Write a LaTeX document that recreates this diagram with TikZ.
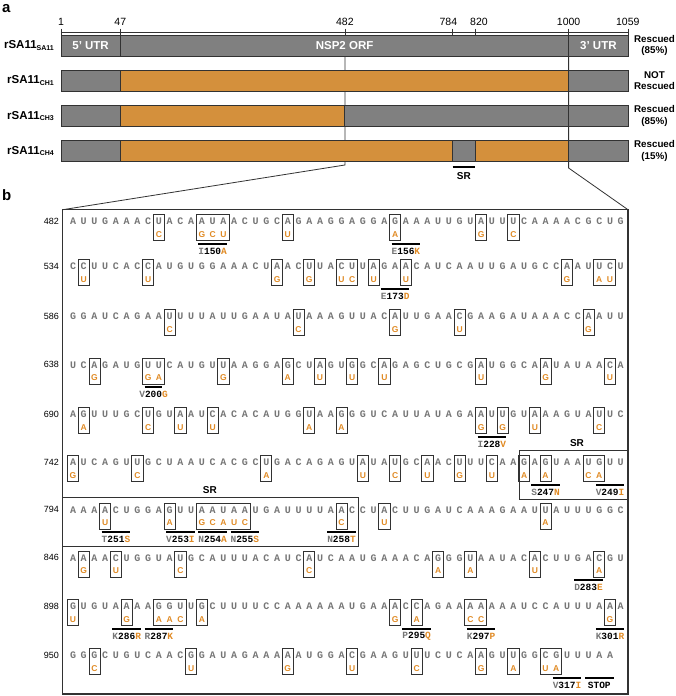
\documentclass[tikz,border=0pt]{standalone}
\usepackage{fontspec}
\setmainfont{Liberation Sans}
\newfontfamily\seqfont{Liberation Mono}
\usetikzlibrary{positioning, calc, fit}

\definecolor{bargray}{RGB}{128,128,128}
\definecolor{barorange}{RGB}{212,144,60}
\definecolor{mutorange}{RGB}{224,138,36}
\definecolor{seqgray}{RGB}{118,118,118}
\definecolor{linegray}{RGB}{50,50,50}

\newcommand{\aachange}[3]{{\color{seqgray}#1}#2{\color{mutorange}#3}}

\begin{document}
\begin{tikzpicture}[
    x=1pt, y=-1pt,
    graybar/.style={fill=bargray, draw=linegray, line width=1pt},
    orangebar/.style={fill=barorange, draw=linegray, line width=1pt},
    construct/.style={anchor=east, inner sep=0pt, font=\bfseries\fontsize{11.5}{12}\selectfont},
    rescuelab/.style={align=center, inner sep=0pt, font=\bfseries\fontsize{9.8}{11.5}\selectfont},
    ticklab/.style={inner sep=0pt, font=\fontsize{10.5}{11}\selectfont},
    regionlab/.style={text=white, inner sep=0pt, font=\bfseries\fontsize{11.5}{12}\selectfont},
    panellab/.style={anchor=west, inner sep=0pt, font=\bfseries\fontsize{15}{16}\selectfont},
    nuc/.style={inner sep=0pt, minimum width=10.74pt, minimum height=12pt,
        text height=7pt, text depth=0pt, text=seqgray,
        font=\seqfont\bfseries\fontsize{10}{10}\selectfont},
    mutant/.style={inner sep=0pt, minimum width=10.74pt, minimum height=12pt,
        text height=6pt, text depth=0pt, text=mutorange,
        font=\bfseries\fontsize{8.5}{9}\selectfont},
    mutbox/.style={draw=linegray, line width=0.8pt, inner sep=0pt},
    rownum/.style={anchor=east, inner sep=0pt, font=\fontsize{9}{9}\selectfont},
    codonbar/.style={line width=2pt},
    codonlab/.style={inner sep=0pt, font=\seqfont\bfseries\fontsize{9.5}{9.5}\selectfont},
    srbox/.style={draw=linegray, line width=1pt},
    srlab/.style={inner sep=0pt, font=\bfseries\fontsize{10}{10}\selectfont},
    zoomline/.style={draw=linegray, line width=0.8pt}
]
\useasboundingbox (0,0) rectangle (675,696);

% panel a
\node[panellab] (pa) at (2,9) {a};

\draw[zoomline] (61,32.7) -- (628.3,32.7);
\foreach \px/\lx/\lab in {61/61/1, 120.3/120.3/47, 344.9/344.9/482, 452.6/448.4/784,
                          475.1/479/820, 568.6/568.6/1000, 628.3/627.8/1059}{
  \draw[zoomline] (\px,28.5) -- (\px,35);
  \node[ticklab] (tick\lab) at (\lx,22) {\lab};
}

% zoom lines towards panel b
\coordinate (cutL) at (344.9,165);
\coordinate (cutR) at (568.6,168);
\coordinate (boxNW) at (62.7,209.7);
\coordinate (boxNE) at (628,209.7);
\draw[zoomline] (344.9,56) -- (cutL) -- (boxNW);
\draw[zoomline] (568.6,56) -- (cutR) -- (boxNE);

% rSA11 SA11
\draw[graybar] (61,35) rectangle (120.3,56);
\draw[graybar] (120.3,35) rectangle (568.6,56);
\draw[graybar] (568.6,35) rectangle (628.3,56);
% rSA11 CH1
\draw[graybar] (61,70.2) rectangle (120.3,91.2);
\draw[orangebar] (120.3,70.2) rectangle (568.6,91.2);
\draw[graybar] (568.6,70.2) rectangle (628.3,91.2);
% rSA11 CH3
\draw[graybar] (61,105.4) rectangle (120.3,126.4);
\draw[orangebar] (120.3,105.4) rectangle (344.9,126.4);
\draw[graybar] (344.9,105.4) rectangle (568.6,126.4);
\draw[graybar] (568.6,105.4) rectangle (628.3,126.4);
% rSA11 CH4
\draw[graybar] (61,140.6) rectangle (120.3,161.6);
\draw[orangebar] (120.3,140.6) rectangle (452.6,161.6);
\draw[graybar] (452.6,140.6) rectangle (475.1,161.6);
\draw[orangebar] (475.1,140.6) rectangle (568.6,161.6);
\draw[graybar] (568.6,140.6) rectangle (628.3,161.6);

\node[regionlab] (utr5) at (90.6,45.5) {5’ UTR};
\node[regionlab] (orf) at (344.6,45.5) {NSP2 ORF};
\node[regionlab] (utr3) at (598.4,45.5) {3’ UTR};

\foreach \c/\yc/\res in {SA11/45.5/{Rescued\\(85\%)}, CH1/80.7/{NOT\\Rescued},
                         CH3/115.9/{Rescued\\(85\%)}, CH4/151.1/{Rescued\\(15\%)}}{
  \node[construct] (con\c) at (54,\yc) {rSA11{\fontsize{7}{7}\selectfont\raisebox{-1.5pt}{\c}}};
  \node[rescuelab] (res\c) at (654.5,\yc) {\res};
}

\draw[line width=2pt] (452.6,166.7) -- (475.1,166.7);
\node[srlab] (srA) at (463.8,176) {SR};

% panel b
\node[panellab] (pb) at (2,195) {b};
\draw[linegray, line width=1.2pt] (boxNW) rectangle (628,694);

\foreach \r/\ry/\seq in {
  482/221/{A,U,U,G,A,A,A,C,U,A,C,A,A,U,A,A,C,U,G,C,A,G,A,A,G,G,A,G,G,A,G,A,A,A,U,U,G,U,A,U,U,U,C,A,A,A,A,C,G,C,U,G},
  534/266/{C,C,U,U,C,A,C,C,A,U,G,U,G,G,A,A,A,C,U,A,A,C,U,U,A,C,U,U,A,G,A,A,C,A,U,C,A,A,U,U,G,A,U,G,C,C,A,A,U,U,C,U},
  586/316/{G,G,A,U,C,A,G,A,A,U,U,U,U,A,U,U,G,A,A,U,A,U,A,A,A,G,U,U,A,C,A,U,U,G,A,A,C,G,A,A,G,A,U,A,A,A,C,C,A,A,U,U},
  638/364.5/{U,C,A,G,A,U,G,U,U,C,A,U,G,U,U,A,A,G,G,A,G,C,U,A,G,U,G,G,C,A,G,A,G,C,U,G,C,G,A,U,G,G,C,A,A,U,A,U,A,A,C,A},
  690/414/{A,G,U,U,U,G,C,U,G,U,A,A,U,C,A,C,A,C,A,U,G,G,U,A,A,G,G,G,U,C,A,U,U,A,U,A,G,A,A,U,U,G,U,A,A,A,G,U,A,U,U,C},
  742/462/{A,U,C,A,G,U,U,G,C,U,A,A,U,C,A,C,G,C,U,G,A,C,A,G,A,G,U,A,U,A,U,G,C,A,A,C,U,U,U,C,A,A,G,A,G,U,A,A,U,G,U,U},
  794/509.5/{A,A,A,A,C,U,G,G,A,G,U,U,A,A,U,A,A,U,G,A,U,U,U,U,A,A,C,C,U,A,C,U,U,G,A,U,C,A,A,A,G,A,A,U,U,A,U,U,U,G,G,C},
  846/557.5/{A,A,A,A,C,U,G,G,U,A,U,G,C,A,U,U,U,A,C,A,U,C,A,U,C,A,A,U,G,A,A,A,C,A,G,G,G,U,A,A,U,A,C,A,C,U,U,G,A,C,G,U},
  898/606/{G,U,G,U,A,A,A,A,G,G,U,U,G,C,U,U,U,U,C,C,A,A,A,A,A,A,U,G,A,A,A,C,C,A,G,A,A,A,A,A,A,A,U,C,C,A,U,U,U,A,A,A},
  950/655/{G,G,G,C,U,G,U,C,A,A,C,G,G,A,U,A,G,A,A,A,A,A,U,G,G,A,C,G,A,A,G,U,U,U,C,U,C,A,A,G,U,U,G,G,C,G,U,U,U,A,A}}{
  \node[rownum] (num\r) at (59,\ry) {\r};
  \foreach \nt [count=\j from 0] in \seq
    \node[nuc] (s\r-\j) at ({73+10.74*\j},\ry) {\nt};
}

% substituted nucleotides
\foreach \r/\i/\m in {
  482/8/C, 482/12/G, 482/13/C, 482/14/U, 482/20/U, 482/30/A, 482/38/G, 482/41/C,
  534/1/U, 534/7/U, 534/19/G, 534/22/G, 534/25/U, 534/26/C, 534/28/U, 534/31/U, 534/46/G, 534/49/A, 534/50/U,
  586/9/C, 586/21/C, 586/30/G, 586/36/U, 586/48/G,
  638/2/G, 638/7/G, 638/8/A, 638/14/G, 638/20/A, 638/23/U, 638/26/U, 638/29/U, 638/38/U, 638/44/G, 638/50/U,
  690/1/A, 690/7/C, 690/10/U, 690/13/U, 690/22/A, 690/25/A, 690/38/G, 690/40/G, 690/43/U, 690/49/C,
  742/0/G, 742/6/C, 742/18/A, 742/27/U, 742/30/C, 742/33/U, 742/36/G, 742/39/U, 742/42/A, 742/44/A, 742/48/C, 742/49/A,
  794/3/U, 794/9/A, 794/12/G, 794/13/C, 794/14/A, 794/15/U, 794/16/C, 794/25/C, 794/29/U, 794/44/A,
  846/1/G, 846/4/U, 846/10/C, 846/22/C, 846/34/A, 846/37/A, 846/43/U, 846/49/A,
  898/0/U, 898/5/G, 898/8/A, 898/9/A, 898/10/C, 898/12/A, 898/30/G, 898/32/A, 898/37/C, 898/38/C, 898/50/G,
  950/2/C, 950/11/U, 950/20/G, 950/26/U, 950/32/C, 950/38/G, 950/41/A, 950/44/U, 950/45/A}
  \node[mutant, below=1pt of s\r-\i] (m\r-\i) {\m};

\foreach \r/\a/\e in {
  482/8/8, 482/12/14, 482/20/20, 482/30/30, 482/38/38, 482/41/41,
  534/1/1, 534/7/7, 534/19/19, 534/22/22, 534/25/26, 534/28/28, 534/31/31, 534/46/46, 534/49/50,
  586/9/9, 586/21/21, 586/30/30, 586/36/36, 586/48/48,
  638/2/2, 638/7/8, 638/14/14, 638/20/20, 638/23/23, 638/26/26, 638/29/29, 638/38/38, 638/44/44, 638/50/50,
  690/1/1, 690/7/7, 690/10/10, 690/13/13, 690/22/22, 690/25/25, 690/38/38, 690/40/40, 690/43/43, 690/49/49,
  742/0/0, 742/6/6, 742/18/18, 742/27/27, 742/30/30, 742/33/33, 742/36/36, 742/39/39, 742/42/42, 742/44/44, 742/48/49,
  794/3/3, 794/9/9, 794/12/16, 794/25/25, 794/29/29, 794/44/44,
  846/1/1, 846/4/4, 846/10/10, 846/22/22, 846/34/34, 846/37/37, 846/43/43, 846/49/49,
  898/0/0, 898/5/5, 898/8/10, 898/12/12, 898/30/30, 898/32/32, 898/37/38, 898/50/50,
  950/2/2, 950/11/11, 950/20/20, 950/26/26, 950/32/32, 950/38/38, 950/41/41, 950/44/45}
  \node[mutbox, fit=(s\r-\a)(m\r-\e)] (box\r-\a) {};

% amino acid changes
\foreach \r/\a/\e/\lab in {
  482/12/14/{\aachange{I}{150}{A}}, 482/30/32/{\aachange{E}{156}{K}},
  534/29/31/{\aachange{E}{173}{D}},
  638/7/8/{\aachange{V}{200}{G}},
  690/38/40/{\aachange{I}{228}{V}},
  742/43/45/{\aachange{S}{247}{N}}, 742/49/51/{\aachange{V}{249}{I}},
  794/3/5/{\aachange{T}{251}{S}}, 794/9/11/{\aachange{V}{253}{I}}, 794/12/14/{\aachange{N}{254}{A}},
  794/15/17/{\aachange{N}{255}{S}}, 794/24/26/{\aachange{N}{258}{T}},
  846/47/49/{\aachange{D}{283}{E}},
  898/4/6/{\aachange{K}{286}{R}}, 898/7/9/{\aachange{R}{287}{K}}, 898/31/33/{\aachange{P}{295}{Q}},
  898/37/39/{\aachange{K}{297}{P}}, 898/49/51/{\aachange{K}{301}{R}},
  950/45/47/{\aachange{V}{317}{I}}, 950/48/50/{STOP}}{
  \draw[codonbar] ($(s\r-\a.center)+(-3.5,22.5)$) -- ($(s\r-\e.center)+(3.5,22.5)$);
  \node[codonlab] (lab\r-\a) at ($(s\r-\a.center)!0.5!(s\r-\e.center)+(0,30)$) {\lab};
}

% SR region
\draw[srbox] (519.2,450.7) rectangle (628,499);
\node[srlab] (srB1) at (577,443.3) {SR};
\draw[srbox] (62.7,497.7) rectangle (358.1,546.7);
\node[srlab] (srB2) at (209.8,490.5) {SR};

\end{tikzpicture}
\end{document}
